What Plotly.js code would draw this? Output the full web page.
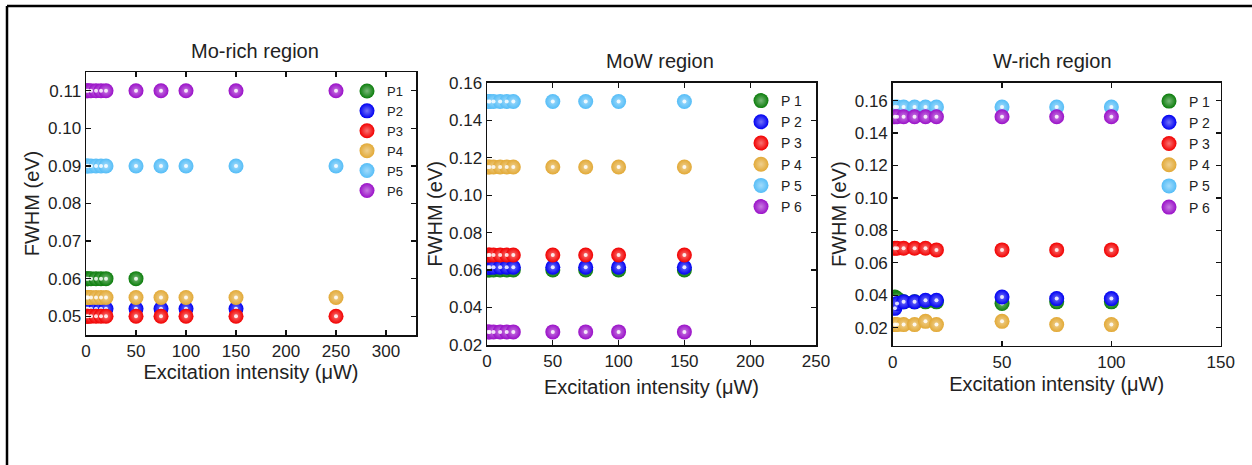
<!DOCTYPE html>
<html>
<head>
<meta charset="utf-8">
<script src="https://cdn.plot.ly/plotly-3.0.1.min.js"></script>
<style>html,body{margin:0;padding:0;background:#fff;}#chart{width:1252px;height:465px;}</style>
</head>
<body>
<div id="chart"></div>
<script>
// ---------- DATA ----------
var panelTitles = ["Mo-rich region", "MoW region", "W-rich region"];
var moLegend = ["P1", "P2", "P3", "P4", "P5", "P6"];
var spacedLegend = ["P 1", "P 2", "P 3", "P 4", "P 5", "P 6"];
var seriesColors = ["#0b7d0b", "#0000f2", "#f20000", "#e2a936", "#55bdf7", "#9a10c8"];

// Mo-rich region
var moX  = [1, 2, 5, 10, 15, 20, 50, 75, 100, 150, 250];
var moP1 = [0.060, 0.060, 0.060, 0.060, 0.060, 0.060, 0.060, null, null, null, null];
var moP2 = [0.052, 0.052, 0.052, 0.052, 0.052, 0.052, 0.052, 0.052, 0.052, 0.052, null];
var moP3 = [0.050, 0.050, 0.050, 0.050, 0.050, 0.050, 0.050, 0.050, 0.050, 0.050, 0.050];
var moP4 = [0.055, 0.055, 0.055, 0.055, 0.055, 0.055, 0.055, 0.055, 0.055, 0.055, 0.055];
var moP5 = [0.090, 0.090, 0.090, 0.090, 0.090, 0.090, 0.090, 0.090, 0.090, 0.090, 0.090];
var moP6 = [0.110, 0.110, 0.110, 0.110, 0.110, 0.110, 0.110, 0.110, 0.110, 0.110, 0.110];

// MoW region
var mowX  = [1, 2, 5, 10, 15, 20, 50, 75, 100, 150];
var mowP1 = [0.060, 0.060, 0.060, 0.060, 0.060, 0.060, 0.060, 0.060, 0.060, 0.060];
var mowP2 = [0.0615, 0.0615, 0.0615, 0.0615, 0.0615, 0.0615, 0.0615, 0.0615, 0.0615, 0.0615];
var mowP3 = [0.068, 0.068, 0.068, 0.068, 0.068, 0.068, 0.068, 0.068, 0.068, 0.068];
var mowP4 = [0.115, 0.115, 0.115, 0.115, 0.115, 0.115, 0.115, 0.115, 0.115, 0.115];
var mowP5 = [0.150, 0.150, 0.150, 0.150, 0.150, 0.150, 0.150, 0.150, 0.150, 0.150];
var mowP6 = [0.027, 0.027, 0.027, 0.027, 0.027, 0.027, 0.027, 0.027, 0.027, 0.027];

// W-rich region
var wX  = [1, 2, 5, 10, 15, 20, 50, 75, 100];
var wP1 = [0.039, 0.038, 0.036, 0.036, 0.036, 0.036, 0.035, 0.036, 0.036];
var wP2 = [0.032, 0.035, 0.036, 0.036, 0.037, 0.037, 0.039, 0.038, 0.038];
var wP3 = [0.069, 0.069, 0.069, 0.069, 0.069, 0.068, 0.068, 0.068, 0.068];
var wP4 = [0.022, 0.022, 0.022, 0.022, 0.024, 0.022, 0.024, 0.022, 0.022];
var wP5 = [0.156, 0.156, 0.156, 0.156, 0.156, 0.156, 0.156, 0.156, 0.156];
var wP6 = [0.150, 0.150, 0.150, 0.150, 0.150, 0.150, 0.150, 0.150, 0.150];

// ---------- BUILD ----------
var FONT = "Liberation Sans, Arial, sans-serif";
var W = 1252, H = 465;
function px(x) { return x / W; }
function py(y) { return 1 - y / H; }

function tint(hex, f) {
  var r = parseInt(hex.substr(1, 2), 16), g = parseInt(hex.substr(3, 2), 16), b = parseInt(hex.substr(5, 2), 16);
  r = Math.round(r + (255 - r) * f); g = Math.round(g + (255 - g) * f); b = Math.round(b + (255 - b) * f);
  return "rgb(" + r + "," + g + "," + b + ")";
}

var panels = [
  {x: moX, ys: [moP1, moP2, moP3, moP4, moP5, moP6], names: moLegend, xa: "x", ya: "y", legend: "legend"},
  {x: mowX, ys: [mowP1, mowP2, mowP3, mowP4, mowP5, mowP6], names: spacedLegend, xa: "x2", ya: "y2", legend: "legend2"},
  {x: wX, ys: [wP1, wP2, wP3, wP4, wP5, wP6], names: spacedLegend, xa: "x3", ya: "y3", legend: "legend3"}
];

var traces = [];
panels.forEach(function (p) {
  p.ys.forEach(function (ys, i) {
    traces.push({
      type: "scatter", mode: "markers", x: p.x, y: ys, name: p.names[i],
      xaxis: p.xa, yaxis: p.ya, legend: p.legend,
      marker: {size: 15, color: seriesColors[i], line: {width: 0},
               gradient: {type: "radial", color: tint(seriesColors[i], 0.45)}}
    });
    traces.push({
      type: "scatter", mode: "markers", x: p.x, y: ys, showlegend: false, hoverinfo: "skip",
      xaxis: p.xa, yaxis: p.ya,
      marker: {size: 4, color: "rgba(255,255,255,0.85)", line: {width: 0}}
    });
  });
});

function xAxis(domain, range, dtick, anchor, standoff) {
  return {
    domain: domain, range: range, dtick: dtick, tick0: 0, anchor: anchor,
    showgrid: false, zeroline: false, showline: true, linecolor: "#111", linewidth: 1.5,
    mirror: "ticks", ticks: "inside", ticklen: 5, tickwidth: 1.2, tickcolor: "#111",
    tickfont: {family: FONT, size: 17, color: "#222"},
    title: {text: "Excitation intensity (\u03bcW)", font: {family: FONT, size: 20, color: "#222"}, standoff: standoff}
  };
}
function yAxis(domain, range, dtick, tick0, anchor, standoff) {
  return {
    domain: domain, range: range, dtick: dtick, tick0: tick0, anchor: anchor, tickformat: ".2f",
    showgrid: false, zeroline: false, showline: true, linecolor: "#111", linewidth: 1.5,
    mirror: "ticks", ticks: "inside", ticklen: 5, tickwidth: 1.2, tickcolor: "#111",
    tickfont: {family: FONT, size: 17, color: "#222"},
    title: {text: "FWHM (eV)", font: {family: FONT, size: 20, color: "#222"}, standoff: standoff}
  };
}
function legendAt(x, y, size) {
  return {x: x, y: y, xanchor: "left", yanchor: "top", bgcolor: "rgba(0,0,0,0)",
          font: {family: FONT, size: size, color: "#222"}, itemsizing: "trace"};
}
function titleAt(text, x, y) {
  return {text: text, xref: "paper", yref: "paper", x: px(x), y: py(y), xanchor: "center", yanchor: "middle",
          showarrow: false, font: {family: FONT, size: 20, color: "#222"}};
}

var layout = {
  width: W, height: H, paper_bgcolor: "#fff", plot_bgcolor: "#fff",
  margin: {l: 0, r: 0, t: 0, b: 0},
  showlegend: true,
  xaxis:  xAxis([px(86), px(416)], [0, 330], 50, "y", 3),
  yaxis:  yAxis([py(335), py(72)], [0.045, 0.115], 0.01, 0.05, "x", 3),
  xaxis2: xAxis([px(487), px(816)], [0, 250], 50, "y2", 10),
  yaxis2: yAxis([py(345), py(82.7)], [0.02, 0.16], 0.02, 0.02, "x2", 1),
  xaxis3: xAxis([px(892.7), px(1220.7)], [0, 150], 50, "y3", 6),
  yaxis3: yAxis([py(345.7), py(82.7)], [0.009, 0.171], 0.02, 0.02, "x3", 2),
  legend:  legendAt(px(347), py(76), 13),
  legend2: legendAt(px(741), py(85), 14),
  legend3: legendAt(px(1149), py(85.5), 14),
  annotations: [
    titleAt(panelTitles[0], 255, 51),
    titleAt(panelTitles[1], 660, 61),
    titleAt(panelTitles[2], 1052, 61)
  ],
  shapes: [
    {type: "line", xref: "paper", yref: "paper", x0: px(7), x1: px(7), y0: 0, y1: py(6), line: {color: "#000", width: 2.5}},
    {type: "line", xref: "paper", yref: "paper", x0: px(7), x1: 1, y0: py(6), y1: py(6), line: {color: "#000", width: 2.5}}
  ]
};

Plotly.newPlot("chart", traces, layout, {displayModeBar: false, staticPlot: true});
</script>
</body>
</html>
